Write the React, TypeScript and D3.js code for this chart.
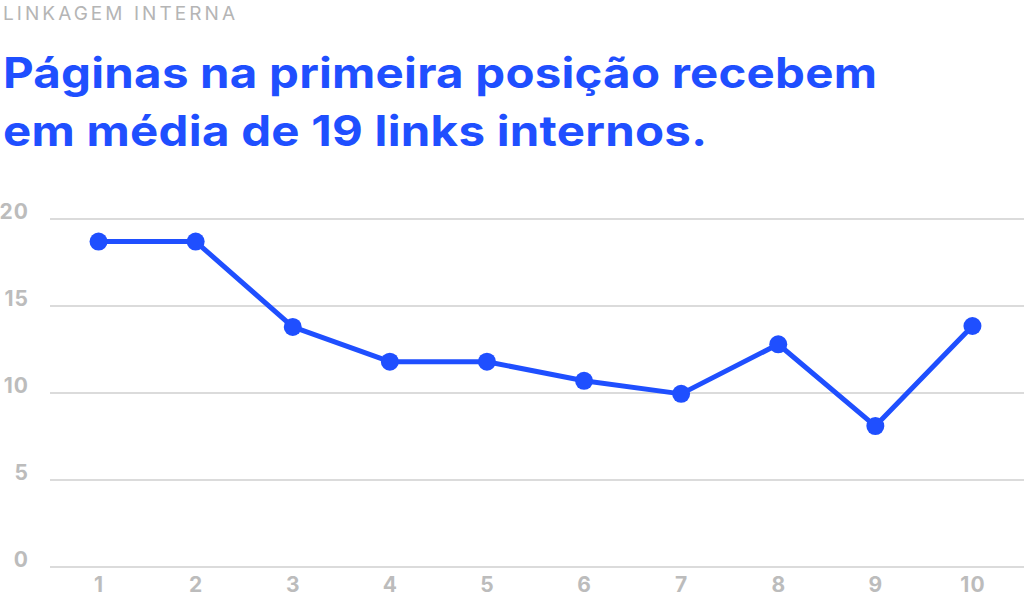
import { useEffect, useRef } from "react"
import * as d3 from "d3"

const positions = ["1", "2", "3", "4", "5", "6", "7", "8", "9", "10"]
const avgLinks = [18.7, 18.7, 13.8, 11.8, 11.8, 10.7, 9.95, 12.8, 8.1, 13.85]
const yTicks = [0, 5, 10, 15, 20]
const kicker = "LINKAGEM INTERNA"
const titleLines = ["Páginas na primeira posição recebem", "em média de 19 links internos."]
// measured widths of the title lines in the reference
const titleWidths = [874, 704]

export default function App() {
  const svgRef = useRef<SVGSVGElement>(null)

  useEffect(() => {
    if (!svgRef.current) return

    const width = 1024
    const height = 600
    const blue = "#1f4fff"
    const grey = "#bcbcbc"
    // the reference face is a bit wider than Inter, so stretch it horizontally
    const stretch = 1.13

    const svg = d3.select(svgRef.current).attr("width", width).attr("height", height)
    svg.selectAll("*").remove()

    svg
      .append("text")
      .attr("x", 3)
      .attr("y", 20)
      .attr("font-family", "Inter")
      .attr("font-size", "19px")
      .attr("textLength", 232)
      .attr("lengthAdjust", "spacing")
      .attr("fill", "#b5b5b5")
      .text(kicker)

    svg
      .selectAll(".title")
      .data(titleLines)
      .enter()
      .append("text")
      .attr("class", "title")
      .attr("transform", (d, i) => `translate(3,${88 + i * 58}) scale(${stretch},1)`)
      .attr("font-family", "Inter")
      .attr("font-weight", 700)
      .attr("font-size", "42px")
      .attr("textLength", (d, i) => titleWidths[i] / stretch)
      .attr("lengthAdjust", "spacing")
      .attr("fill", blue)
      .text((d) => d)

    const x = d3.scalePoint<string>().domain(positions).range([50, 1021]).padding(0.5)
    const y = d3.scaleLinear().domain([0, 20]).range([567, 219])

    svg
      .selectAll(".grid")
      .data(yTicks)
      .enter()
      .append("line")
      .attr("class", "grid")
      .attr("x1", 50)
      .attr("x2", width)
      .attr("y1", (d) => y(d))
      .attr("y2", (d) => y(d))
      .attr("stroke", "#cfcfcf")
      .attr("stroke-width", 1.5)

    svg
      .selectAll(".ylab")
      .data(yTicks)
      .enter()
      .append("text")
      .attr("class", "ylab")
      .attr("x", 29)
      .attr("y", (d) => y(d))
      .attr("text-anchor", "end")
      .attr("font-family", "Inter")
      .attr("font-weight", 700)
      .attr("font-size", "21px")
      .attr("letter-spacing", "1px")
      .attr("fill", grey)
      .text((d) => d)

    svg
      .selectAll(".xlab")
      .data(positions)
      .enter()
      .append("text")
      .attr("class", "xlab")
      .attr("x", (d) => x(d)! + 0.5)
      .attr("y", 592)
      .attr("text-anchor", "middle")
      .attr("font-family", "Inter")
      .attr("font-weight", 700)
      .attr("font-size", "21px")
      .attr("letter-spacing", "1px")
      .attr("fill", grey)
      .text((d) => d)

    const pts = positions.map((p, i) => ({ p, v: avgLinks[i] }))

    const line = d3
      .line<{ p: string; v: number }>()
      .x((d) => x(d.p)!)
      .y((d) => y(d.v))

    svg
      .append("path")
      .datum(pts)
      .attr("d", line)
      .attr("fill", "none")
      .attr("stroke", blue)
      .attr("stroke-width", 5)
      .attr("stroke-linejoin", "round")

    svg
      .selectAll(".dot")
      .data(pts)
      .enter()
      .append("circle")
      .attr("class", "dot")
      .attr("cx", (d) => x(d.p)!)
      .attr("cy", (d) => y(d.v))
      .attr("r", 9)
      .attr("fill", blue)
  }, [])

  return <svg ref={svgRef} style={{ position: "absolute", left: 0, top: 0 }} />
}
